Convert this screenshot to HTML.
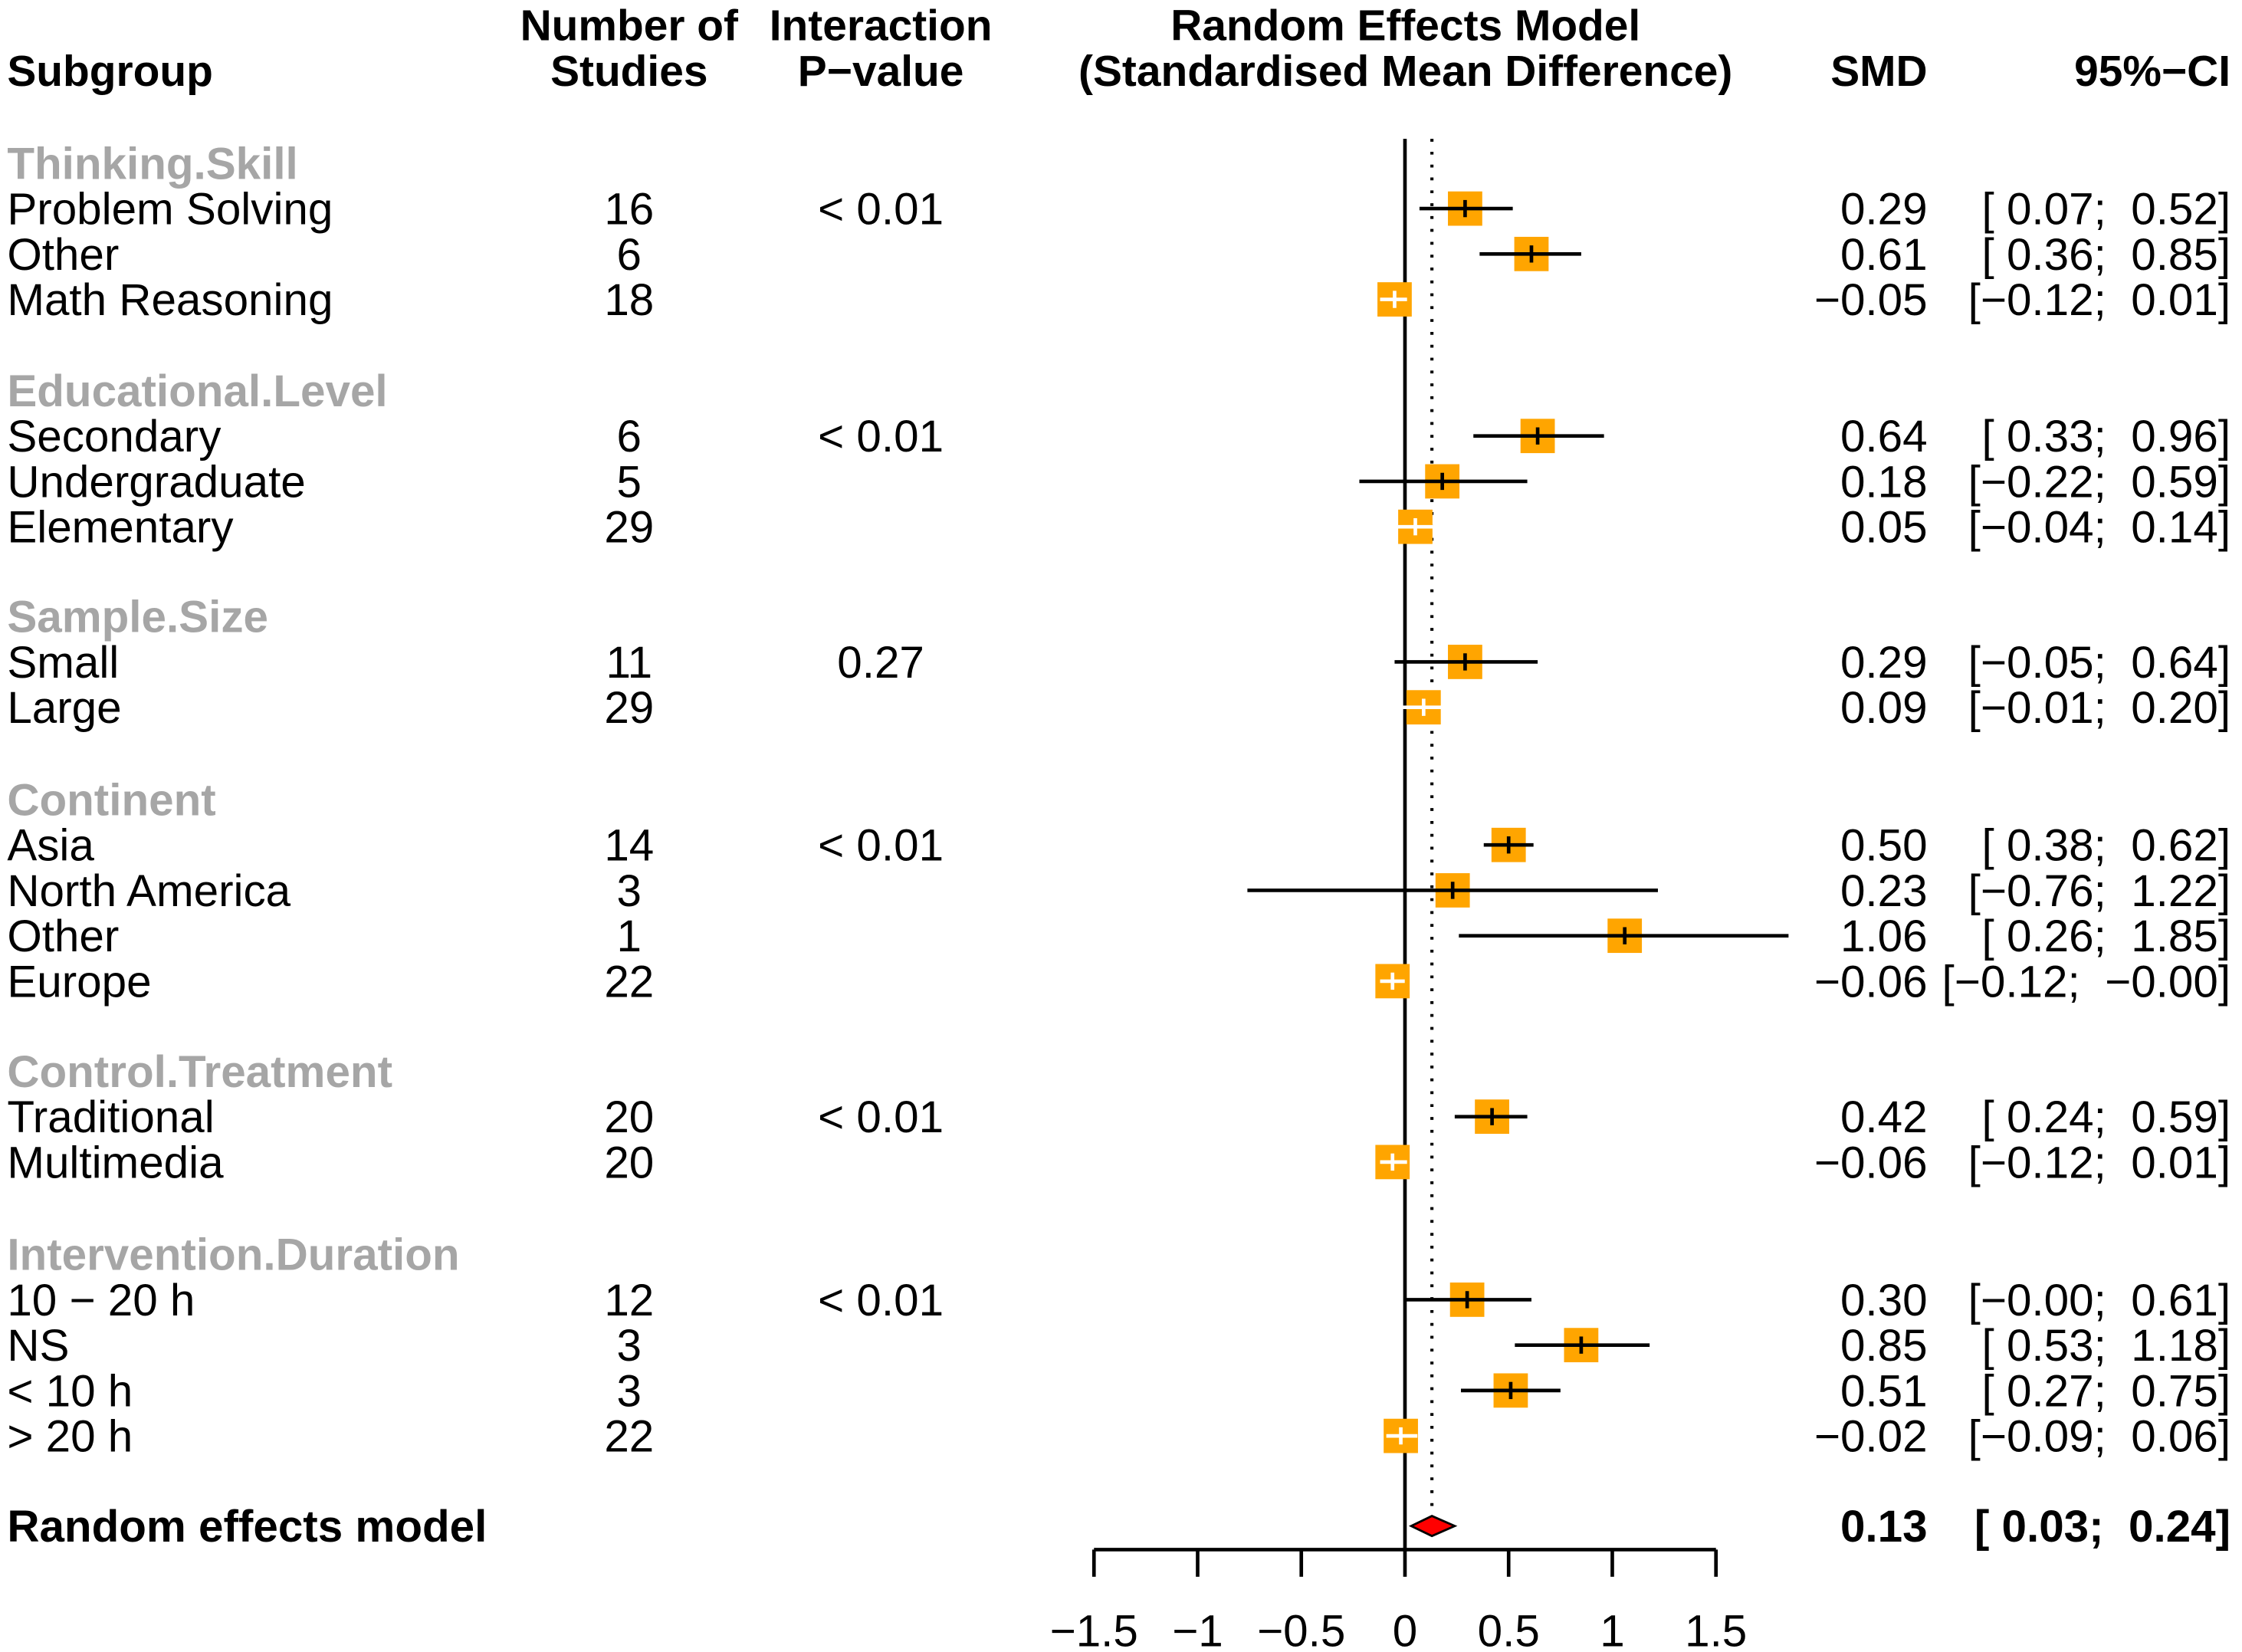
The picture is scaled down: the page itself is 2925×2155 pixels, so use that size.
<!DOCTYPE html>
<html><head><meta charset="utf-8"><style>
html,body{margin:0;padding:0;background:#fff}
svg{display:block}
text{font-family:"Liberation Sans",Arial,sans-serif}
</style></head><body>
<svg id="chart" xmlns="http://www.w3.org/2000/svg" width="2925" height="2155" viewBox="0 0 1568 1155">
<g font-weight="bold" font-size="30.5" fill="#000">
<text x="5" y="60">Subgroup</text>
<text x="440" y="28" text-anchor="middle">Number of</text>
<text x="440" y="60" text-anchor="middle">Studies</text>
<text x="616" y="28" text-anchor="middle">Interaction</text>
<text x="616" y="60" text-anchor="middle">P−value</text>
<text x="983" y="28" text-anchor="middle">Random Effects Model</text>
<text x="983" y="60" text-anchor="middle">(Standardised Mean Difference)</text>
<text x="1348" y="60" text-anchor="end">SMD</text>
<text x="1560" y="60" text-anchor="end">95%−CI</text>
</g>
<g id="rows"></g>
<g id="plot"></g>
</svg>
<script>
const groupNames = ["Thinking.Skill","Educational.Level","Sample.Size","Continent","Control.Treatment","Intervention.Duration"];
const groupP = ["< 0.01","< 0.01","0.27","< 0.01","< 0.01","< 0.01"];
const rowGroup = [0,0,0,1,1,1,2,2,3,3,3,3,4,4,5,5,5,5];
const rowLabels = ["Problem Solving","Other","Math Reasoning","Secondary","Undergraduate","Elementary","Small","Large","Asia","North America","Other","Europe","Traditional","Multimedia","10 − 20 h","NS","< 10 h","> 20 h"];
const rowStudies = [16,6,18,6,5,29,11,29,14,3,1,22,20,20,12,3,3,22];
const rowSmd = [0.29,0.61,-0.05,0.64,0.18,0.05,0.29,0.09,0.50,0.23,1.06,-0.06,0.42,-0.06,0.30,0.85,0.51,-0.02];
const rowLo = [0.07,0.36,-0.12,0.33,-0.22,-0.04,-0.05,-0.01,0.38,-0.76,0.26,-0.12,0.24,-0.12,-0.001,0.53,0.27,-0.09];
const rowHi = [0.52,0.85,0.01,0.96,0.59,0.14,0.64,0.20,0.62,1.22,1.85,-0.001,0.59,0.01,0.61,1.18,0.75,0.06];
const overall = {smd:0.13, lo:0.03, hi:0.24};
const xTicks = [-1.5,-1,-0.5,0,0.5,1,1.5];
const xTickLabels = ["−1.5","−1","−0.5","0","0.5","1","1.5"];

const NS="http://www.w3.org/2000/svg";
const X0=982.6, XS=145;
const x = v => X0 + v*XS;
const rowsG=document.getElementById('rows'), plotG=document.getElementById('plot');
function mk(tag, attrs, parent, txt){const e=document.createElementNS(NS,tag);for(const k in attrs)e.setAttribute(k,attrs[k]);if(txt!==undefined)e.textContent=txt;parent.appendChild(e);return e;}
const fmt = v => (v<0?"−":"")+Math.abs(v).toFixed(2);
const fmtCI = v => (v<0 ? "−" : " ")+Math.abs(v).toFixed(2);

const headerY=[114,273,431,559,749,877];
let positions=[]; let last=-1, yy=0;
for(let i=0;i<rowLabels.length;i++){
  if(rowGroup[i]!==last){ last=rowGroup[i]; yy=headerY[last]; }
  yy+=31.75; positions.push(yy);
}
const yOverall=1067;
const FS=31.3;
groupNames.forEach((g,gi)=>{
  const t=mk('text',{x:5,y:headerY[gi]+11,'font-size':FS,'font-weight':'bold',fill:'#a6a6a6'},rowsG,g);
  
  
});
rowLabels.forEach((lab,i)=>{
  const y=positions[i]+11;
  const g=mk('g',{'font-size':FS,fill:'#000'},rowsG);
  
  
  mk('text',{x:5,y:y},g,lab);
  mk('text',{x:440,y:y,'text-anchor':'middle'},g,String(rowStudies[i]));
  const first = i===0 || rowGroup[i]!==rowGroup[i-1];
  if(first) mk('text',{x:616,y:y,'text-anchor':'middle'},g,groupP[rowGroup[i]]);
  mk('text',{x:1348,y:y,'text-anchor':'end'},g,fmt(rowSmd[i]));
  mk('text',{x:1560,y:y,'text-anchor':'end',style:'white-space:pre'},g,"["+fmtCI(rowLo[i])+";  "+fmtCI(rowHi[i]).trim()+"]");
});
{
  const g=mk('g',{'font-size':FS,'font-weight':'bold',fill:'#000'},rowsG);
  
  
  mk('text',{x:5,y:yOverall+11},g,"Random effects model");
  mk('text',{x:1348,y:yOverall+11,'text-anchor':'end'},g,fmt(overall.smd));
  mk('text',{x:1560,y:yOverall+11,'text-anchor':'end',style:'white-space:pre'},g,"["+fmtCI(overall.lo)+";  "+fmtCI(overall.hi).trim()+"]");
}
let l=mk('line',{x1:x(0),x2:x(0),y1:97,y2:1083.5,stroke:'#000','stroke-width':2.5},plotG);


l=mk('line',{x1:x(overall.smd),x2:x(overall.smd),y1:97,y2:1058,stroke:'#000','stroke-width':2.2,'stroke-dasharray':'2,7'},plotG);


rowSmd.forEach((v,i)=>{
  const y=positions[i], s=24;
  const g=mk('g',{},plotG);
  
  
  mk('rect',{x:x(v)-s/2,y:y-s/2,width:s,height:s,fill:'#ffa500'},g);
  const inside = (rowHi[i]-rowLo[i])*XS <= 32;
  const col = inside ? '#fff' : '#000';
  mk('line',{x1:x(rowLo[i]),x2:x(rowHi[i]),y1:y,y2:y,stroke:col,'stroke-width':2.5},g);
  mk('line',{x1:x(v),x2:x(v),y1:y-6,y2:y+6,stroke:col,'stroke-width':2.5},g);
});
const d=mk('polygon',{points:`${x(overall.lo)},${yOverall} ${x(overall.smd)},${yOverall-7} ${x(overall.hi)},${yOverall} ${x(overall.smd)},${yOverall+7}`,fill:'#f00',stroke:'#000','stroke-width':1.5},plotG);


const ax=mk('g',{},plotG);


mk('line',{x1:x(xTicks[0]),x2:x(xTicks[xTicks.length-1]),y1:1083.5,y2:1083.5,stroke:'#000','stroke-width':2.5},ax);
xTicks.forEach((t,i)=>{
  mk('line',{x1:x(t),x2:x(t),y1:1083.5,y2:1102.5,stroke:'#000','stroke-width':2.5},ax);
  const tl=mk('text',{x:x(t),y:1151,'text-anchor':'middle','font-size':FS},ax,xTickLabels[i]);
  
  
});
</script>
</body></html>
